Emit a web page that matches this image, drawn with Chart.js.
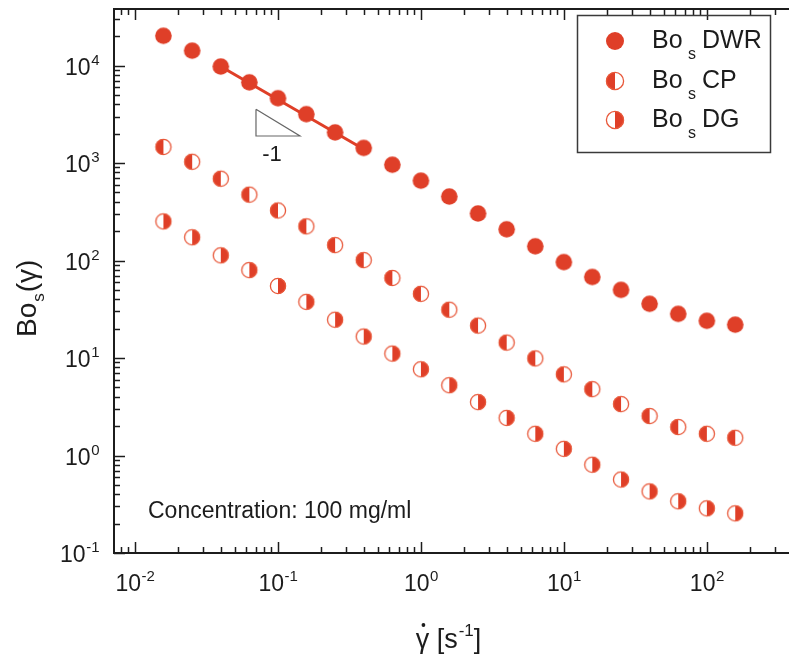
<!DOCTYPE html>
<html>
<head>
<meta charset="utf-8">
<script src="https://cdn.jsdelivr.net/npm/chart.js@4.4.1/dist/chart.umd.min.js"></script>
<style>
  html, body { margin: 0; padding: 0; background: #fff; overflow: hidden; }
</style>
</head>
<body>
<canvas id="bosChart" width="840" height="659"></canvas>
<script>
// shear rate [1/s]
const shearRates = [0.0158, 0.0251, 0.0398, 0.0631, 0.1, 0.158, 0.251, 0.398, 0.631, 1, 1.58, 2.51, 3.98, 6.31, 10, 15.8, 25.1, 39.8, 63.1, 100, 158];
const bosDWR = [20200, 14200, 9770, 6720, 4620, 3170, 2060, 1430, 960, 659, 453, 304, 209, 140, 96.4, 67.8, 50, 36, 28.4, 24.1, 22];
const bosCP = [1460, 1030, 690, 474, 326, 224, 144, 101, 66.2, 45.5, 31.3, 21.5, 14.4, 9.9, 6.8, 4.79, 3.37, 2.54, 1.96, 1.67, 1.52];
const bosDG = [252, 173, 113, 79.8, 54.8, 37.7, 24.7, 16.6, 11.1, 7.66, 5.26, 3.53, 2.43, 1.67, 1.17, 0.805, 0.567, 0.428, 0.339, 0.287, 0.255];

// slope -1 fit and triangle
const fitX = [0.0398, 0.419];
const fitY = [9770, 1330];
const triX = [0.0702, 0.0702, 0.1426, 0.0702];
const triY = [3566, 1893, 1893, 3566];

// axis tick exponents
const xTickExps = [-2, -1, 0, 1, 2];
const yTickExps = [-1, 0, 1, 2, 3, 4];

const seriesNames = ['DWR', 'CP', 'DG'];

const RED = '#df3f28';
const EDGE = '#e8583a';
const FONT = '"Liberation Sans", Arial, sans-serif';

// half filled circle markers
function halfCircle(r, leftFilled) {
  const c = document.createElement('canvas');
  const s = Math.ceil(r * 2 + 4);
  c.width = s; c.height = s;
  const g = c.getContext('2d');
  const m = s / 2;
  g.fillStyle = '#fff';
  g.beginPath(); g.arc(m, m, r, 0, Math.PI * 2); g.fill();
  g.fillStyle = RED;
  g.beginPath();
  if (leftFilled) g.arc(m, m, r, Math.PI / 2, Math.PI * 1.5);
  else g.arc(m, m, r, -Math.PI / 2, Math.PI / 2);
  g.closePath(); g.fill();
  g.strokeStyle = EDGE; g.lineWidth = 1.3;
  g.beginPath(); g.arc(m, m, r - 0.4, 0, Math.PI * 2); g.stroke();
  return c;
}
function fullCircle(r) {
  const c = document.createElement('canvas');
  const s = Math.ceil(r * 2 + 4);
  c.width = s; c.height = s;
  const g = c.getContext('2d');
  g.fillStyle = RED;
  g.beginPath(); g.arc(s / 2, s / 2, r, 0, Math.PI * 2); g.fill();
  return c;
}

const markerCP = halfCircle(8, true);
const markerDG = halfCircle(8, false);
const markerDWR = fullCircle(8.3);

const toPts = (xs, ys) => xs.map((v, i) => ({ x: v, y: ys[i] }));

// draws 10^exp
function drawPow(ctx, exp, x, y, align, size, supSize, raise) {
  ctx.font = size + 'px ' + FONT;
  const w1 = ctx.measureText('10').width;
  ctx.font = supSize + 'px ' + FONT;
  const w2 = ctx.measureText(String(exp)).width;
  let sx = x;
  if (align === 'right') sx = x - w1 - w2;
  else if (align === 'center') sx = x - (w1 + w2) / 2;
  ctx.textAlign = 'left';
  ctx.textBaseline = 'alphabetic';
  ctx.font = size + 'px ' + FONT;
  ctx.fillText('10', sx, y);
  ctx.font = supSize + 'px ' + FONT;
  ctx.fillText(String(exp), sx + w1 + 0.5, y - raise);
}

const decorPlugin = {
  id: 'decor',
  afterDraw(chart) {
    const { ctx, chartArea: a } = chart;
    const xs = chart.scales.x, ys = chart.scales.y;
    ctx.save();
    ctx.strokeStyle = '#1c1c1c';
    ctx.fillStyle = '#1c1c1c';

    // frame
    ctx.lineWidth = 2;
    ctx.beginPath();
    ctx.moveTo(a.right, a.top);
    ctx.lineTo(a.left, a.top);
    ctx.lineTo(a.left, a.bottom);
    ctx.lineTo(a.right, a.bottom);
    ctx.stroke();

    // ticks
    ctx.lineWidth = 1.5;
    for (let e = -3; e <= 5; e++) {
      for (let m = 1; m <= 9; m++) {
        const v = m * Math.pow(10, e);
        const len = m === 1 ? 11 : 6;
        if (v >= xs.min && v <= xs.max) {
          const px = Math.round(xs.getPixelForValue(v)) + 0.5;
          ctx.beginPath();
          ctx.moveTo(px, a.bottom); ctx.lineTo(px, a.bottom - len);
          ctx.moveTo(px, a.top); ctx.lineTo(px, a.top + len);
          ctx.stroke();
        }
        if (v >= ys.min && v <= ys.max) {
          const py = Math.round(ys.getPixelForValue(v)) + 0.5;
          ctx.beginPath();
          ctx.moveTo(a.left, py); ctx.lineTo(a.left + len, py);
          ctx.stroke();
        }
      }
    }

    // tick labels
    xTickExps.forEach(e => {
      const px = xs.getPixelForValue(Math.pow(10, e));
      drawPow(ctx, e, px, a.bottom + 38, 'center', 23, 15, 10);
    });
    yTickExps.forEach(e => {
      const py = ys.getPixelForValue(Math.pow(10, e));
      drawPow(ctx, e, 99, py + 9, 'right', 23, 15, 10);
    });

    // x axis title
    ctx.textAlign = 'left';
    ctx.textBaseline = 'alphabetic';
    const tb = 648;
    ctx.font = '27px ' + FONT;
    const wG = ctx.measureText('\u03b3').width;
    const wB = ctx.measureText(' [s').width;
    const wE = ctx.measureText(']').width;
    ctx.font = '17px ' + FONT;
    const wS = ctx.measureText('-1').width;
    let tx = 448 - (wG + wB + wS + wE) / 2;
    ctx.font = '27px ' + FONT;
    ctx.fillText('\u03b3', tx, tb);
    ctx.beginPath();
    ctx.arc(tx + wG / 2 + 1, tb - 23, 1.9, 0, Math.PI * 2);
    ctx.fill();
    tx += wG;
    ctx.fillText(' [s', tx, tb);
    tx += wB;
    ctx.font = '17px ' + FONT;
    ctx.fillText('-1', tx + 1, tb - 12);
    tx += wS + 1;
    ctx.font = '27px ' + FONT;
    ctx.fillText(']', tx, tb);

    // y axis title
    ctx.save();
    ctx.translate(36, 337);
    ctx.rotate(-Math.PI / 2);
    ctx.font = '28px ' + FONT;
    ctx.fillText('Bo', 0, 0);
    let ty = ctx.measureText('Bo').width;
    ctx.font = '17px ' + FONT;
    ctx.fillText('s', ty + 1, 8);
    ty += ctx.measureText('s').width + 2;
    ctx.font = '28px ' + FONT;
    ctx.fillText('(\u03b3)', ty, 0);
    ctx.restore();

    // slope label
    ctx.font = '22px ' + FONT;
    ctx.textAlign = 'center';
    ctx.fillText('-1', xs.getPixelForValue(0.0908), ys.getPixelForValue(1270) + 8);

    // concentration note
    ctx.textAlign = 'left';
    ctx.font = '23px ' + FONT;
    ctx.fillText('Concentration: 100 mg/ml', a.left + 34, a.bottom - 35);

    // legend
    ctx.strokeStyle = '#3a3a3a';
    ctx.lineWidth = 1.5;
    ctx.strokeRect(577.5, 15.5, 193, 137);
    const markers = [fullCircle(9), halfCircle(9, true), halfCircle(9, false)];
    const rowsY = [48, 88, 127];
    seriesNames.forEach((name, i) => {
      const mk = markers[i];
      ctx.drawImage(mk, 615 - mk.width / 2, rowsY[i] - 7 - mk.height / 2);
      ctx.fillStyle = '#1c1c1c';
      ctx.font = '25px ' + FONT;
      ctx.fillText('Bo', 652, rowsY[i]);
      ctx.font = '16px ' + FONT;
      ctx.fillText('s', 688, rowsY[i] + 11);
      ctx.font = '25px ' + FONT;
      ctx.fillText(name, 702, rowsY[i]);
    });
    ctx.restore();
  }
};

new Chart(document.getElementById('bosChart'), {
  type: 'scatter',
  data: {
    datasets: [
      { label: 'Bos DWR', data: toPts(shearRates, bosDWR), pointStyle: markerDWR, order: 2 },
      { label: 'Bos CP', data: toPts(shearRates, bosCP), pointStyle: markerCP, order: 1 },
      { label: 'Bos DG', data: toPts(shearRates, bosDG), pointStyle: markerDG, order: 0 },
      { label: 'fit', data: toPts(fitX, fitY), showLine: true, borderColor: RED, borderWidth: 3, pointRadius: 0, order: 5 },
      { label: 'slope', data: toPts(triX, triY), showLine: true, borderColor: '#666', borderWidth: 1.2, pointRadius: 0, order: 6 }
    ]
  },
  options: {
    responsive: false,
    animation: false,
    devicePixelRatio: 1,
    layout: { padding: { left: 114, top: 5, right: 26, bottom: 106 } },
    plugins: { legend: { display: false }, tooltip: { enabled: false } },
    elements: { point: { radius: 8 } },
    scales: {
      x: { type: 'logarithmic', display: false, min: 0.00713, max: 562 },
      y: { type: 'logarithmic', display: false, min: 0.1, max: 38000 }
    }
  },
  plugins: [decorPlugin]
});
</script>
</body>
</html>
